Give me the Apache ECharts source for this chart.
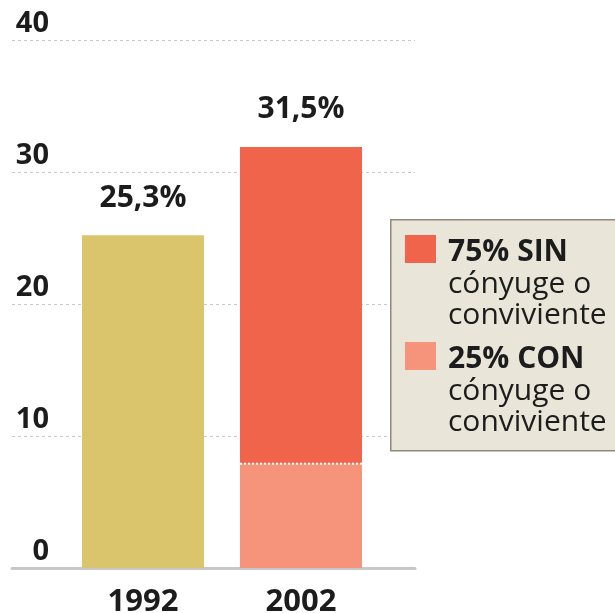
<!DOCTYPE html>
<html>
<head>
<meta charset="utf-8">
<script src="https://cdn.jsdelivr.net/npm/echarts@6/dist/echarts.min.js"></script>
<style>
  html, body { margin: 0; padding: 0; background: #fff; }
  #chart { width: 615px; height: 613px; }
</style>
</head>
<body>
<div id="chart"></div>
<script>
// data
const years = ['1992', '2002'];
const total1992 = [25.2, '-'];
const conConyuge = ['-', 7.9];    // 25% con cónyuge o conviviente
const sinConyuge = ['-', 24.0];   // 75% sin cónyuge o conviviente
const totalLabels = ['25,3%', '31,5%'];
const legendTitles = ['75% SIN', '25% CON'];
const legendSub = ['cónyuge o', 'conviviente'];

const FONT = '"Open Sans", "Liberation Sans", sans-serif';
const colors = { y1992: '#dbc56c', sin: '#f0644c', con: '#f5937b', text: '#1c1c1c' };
const barWidth = 122;

const chart = echarts.init(document.getElementById('chart'));

const labelStyle = {
    show: true,
    position: 'top',
    distance: 22,
    fontFamily: FONT,
    fontWeight: 'bold',
    fontSize: 30,
    color: colors.text
};

// legend box drawn as graphic (multi-line entries)
const legendGraphic = [
    {
        type: 'rect',
        left: 390, top: 219,
        shape: { width: 240, height: 231 },
        style: { fill: '#e9e5d8', stroke: '#8f8a78', lineWidth: 1.5 },
        z: 10
    }
];
[colors.sin, colors.con].forEach((c, i) => {
    const y0 = 235 + i * 107;
    legendGraphic.push({
        type: 'rect', left: 405, top: y0,
        shape: { width: 31, height: 28 },
        style: { fill: c }, z: 11
    });
    legendGraphic.push({
        type: 'text', x: 448, y: y0 + 17,
        style: { text: legendTitles[i], font: 'bold 30px ' + FONT, fill: colors.text, verticalAlign: 'middle' },
        z: 11
    });
    legendSub.forEach((t, j) => {
        legendGraphic.push({
            type: 'text', x: 448, y: y0 + 49 + j * 31,
            style: { text: t, font: '30px ' + FONT, fill: colors.text, verticalAlign: 'middle' },
            z: 11
        });
    });
});

chart.setOption({
    animation: false,
    grid: [
        { left: 12, right: 200, top: 40, bottom: 45, outerBoundsMode: 'none' },
        { left: 64, right: 235, top: 40, bottom: 45, outerBoundsMode: 'none' }
    ],
    xAxis: [
        {
            gridIndex: 0, type: 'category', data: years,
            offset: 4,
            axisLine: { lineStyle: { color: '#c8c8cb', width: 3 } },
            axisTick: { show: false },
            axisLabel: { show: false }
        },
        {
            gridIndex: 1, type: 'category', data: years,
            axisLine: { show: false },
            axisTick: { show: false },
            axisLabel: {
                margin: 19,
                fontFamily: FONT, fontWeight: 'bold', fontSize: 31, color: colors.text
            }
        }
    ],
    yAxis: [
        {
            gridIndex: 0, type: 'value', min: 0, max: 40, interval: 10,
            axisLine: { show: false },
            axisTick: { show: false },
            axisLabel: {
                inside: true, align: 'right', verticalAlign: 'bottom', margin: 37,
                padding: [0, 0, 2, 0],
                fontFamily: FONT, fontWeight: 'bold', fontSize: 29, color: colors.text
            },
            splitLine: { showMinLine: false, lineStyle: { color: '#c8c8c8', type: [3, 3], width: 1 } }
        },
        {
            gridIndex: 1, type: 'value', min: 0, max: 40, show: false
        }
    ],
    graphic: legendGraphic,
    series: [
        {
            name: '1992', type: 'bar', xAxisIndex: 1, yAxisIndex: 1, stack: 'total',
            barWidth: barWidth, data: total1992,
            itemStyle: { color: colors.y1992 },
            label: Object.assign({}, labelStyle, { formatter: p => totalLabels[p.dataIndex] })
        },
        {
            name: 'con', type: 'bar', xAxisIndex: 1, yAxisIndex: 1, stack: 'total',
            barWidth: barWidth, data: conConyuge,
            itemStyle: { color: colors.con }
        },
        {
            name: 'sin', type: 'bar', xAxisIndex: 1, yAxisIndex: 1, stack: 'total',
            barWidth: barWidth, data: sinConyuge,
            itemStyle: { color: colors.sin },
            label: Object.assign({}, labelStyle, { formatter: p => totalLabels[p.dataIndex] })
        },
        {
            // dotted white divider between the two 2002 segments
            type: 'custom', xAxisIndex: 1, yAxisIndex: 1, z: 5,
            data: [[1, conConyuge[1]]],
            renderItem: (params, api) => {
                const p = api.coord([api.value(0), api.value(1)]);
                return {
                    type: 'line',
                    shape: { x1: p[0] - barWidth / 2, y1: p[1], x2: p[0] + barWidth / 2, y2: p[1] },
                    style: { stroke: '#fff', lineWidth: 2, lineDash: [2, 2] }
                };
            }
        }
    ]
});

window.addEventListener('resize', () => chart.resize());
</script>
</body>
</html>
